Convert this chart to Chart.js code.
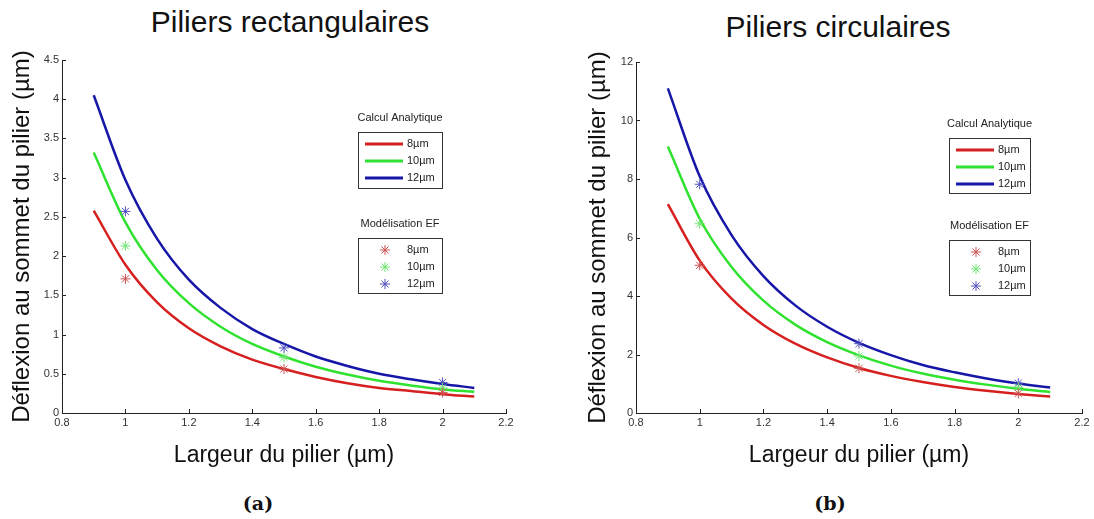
<!DOCTYPE html>
<html>
<head>
<meta charset="utf-8">
<script src="https://cdn.jsdelivr.net/npm/chart.js@4"></script>
<style>
  body { margin: 0; background: #fff; width: 1094px; height: 519px; position: relative; overflow: hidden;
         font-family: "Liberation Sans", Arial, sans-serif; }
  .title { position: absolute; font-size: 30px; color: #111; transform: translate(-50%, -50%); white-space: nowrap; }
  .cap { position: absolute; font: bold 19px "DejaVu Serif", serif; color: #111; transform: translate(-50%, -50%); }
  canvas { position: absolute; top: 0; }
</style>
</head>
<body>
<div class="title" style="left:290px;top:22px">Piliers rectangulaires</div>
<div class="title" style="left:838px;top:27px">Piliers circulaires</div>
<canvas id="rectChart" width="547" height="480" style="left:0"></canvas>
<canvas id="circChart" width="518" height="480" style="left:576px"></canvas>
<div class="cap" style="left:258px;top:503px">(a)</div>
<div class="cap" style="left:830px;top:503px">(b)</div>

<script>
// === DATA ===
const widths = [0.9, 1.0, 1.1, 1.2, 1.3, 1.4, 1.5, 1.6, 1.7, 1.8, 1.9, 2.0, 2.1];
const feWidths = [1.0, 1.5, 2.0];
const sizes = ["8µm", "10µm", "12µm"];

// rectangular pillars - analytic
const rectAna8 = [2.58, 1.89, 1.41, 1.08, 0.85, 0.68, 0.56, 0.46, 0.38, 0.32, 0.28, 0.24, 0.21];
const rectAna10 = [3.32, 2.43, 1.82, 1.40, 1.10, 0.88, 0.72, 0.59, 0.49, 0.41, 0.35, 0.30, 0.27];
const rectAna12 = [4.05, 2.97, 2.22, 1.70, 1.34, 1.07, 0.88, 0.72, 0.60, 0.50, 0.43, 0.37, 0.32];
// rectangular pillars - FE
const rectFe8 = [1.71, 0.56, 0.26];
const rectFe10 = [2.13, 0.71, 0.32];
const rectFe12 = [2.57, 0.83, 0.39];

// circular pillars - analytic
const circAna8 = [7.14, 5.21, 3.91, 3.01, 2.37, 1.90, 1.54, 1.27, 1.06, 0.89, 0.76, 0.65, 0.56];
const circAna10 = [9.11, 6.64, 4.99, 3.84, 3.02, 2.42, 1.97, 1.62, 1.35, 1.14, 0.97, 0.83, 0.72];
const circAna12 = [11.10, 8.09, 6.08, 4.68, 3.68, 2.95, 2.40, 1.98, 1.64, 1.39, 1.18, 1.01, 0.87];
// circular pillars - FE
const circFe8 = [5.05, 1.53, 0.67];
const circFe10 = [6.47, 1.95, 0.88];
const circFe12 = [7.82, 2.37, 1.02];

const lineColors = ["rgb(214,32,32)", "rgb(48,226,48)", "rgb(22,22,168)"];
const markColors = ["rgb(205,80,80)", "rgb(110,228,110)", "rgb(80,80,190)"];

const FONT = '"Liberation Sans", Arial, sans-serif';

// MATLAB style ticks pointing into the plot
const inwardTicks = {
  id: "inwardTicks",
  afterDatasetsDraw(chart) {
    const { ctx, chartArea, scales } = chart;
    ctx.save();
    ctx.strokeStyle = "#222";
    ctx.lineWidth = 1;
    ctx.beginPath();
    scales.x.ticks.forEach((t) => {
      const px = Math.round(scales.x.getPixelForValue(t.value)) + 0.5;
      ctx.moveTo(px, chartArea.bottom);
      ctx.lineTo(px, chartArea.bottom - 4);
    });
    scales.y.ticks.forEach((t) => {
      const py = Math.round(scales.y.getPixelForValue(t.value)) + 0.5;
      ctx.moveTo(chartArea.left, py);
      ctx.lineTo(chartArea.left + 4, py);
    });
    ctx.stroke();
    ctx.restore();
  },
};

// the two boxed legends (analytic lines, FE markers)
const figLegend = {
  id: "figLegend",
  afterDraw(chart, args, opts) {
    const { ctx, chartArea } = chart;
    const x0 = Math.round(chartArea.left + opts.dx);
    ctx.save();
    ctx.font = "11px " + FONT;
    ctx.textBaseline = "middle";
    opts.boxes.forEach((b) => {
      const y0 = Math.round(chartArea.top + b.dy);
      ctx.fillStyle = "#222";
      ctx.textAlign = "center";
      ctx.fillText(b.title, x0 + opts.w / 2, y0 - 14);
      ctx.strokeStyle = "#333";
      ctx.lineWidth = 1;
      ctx.strokeRect(x0 + 0.5, y0 + 0.5, opts.w, b.h);
      const sets = chart.data.datasets.filter((d) => d.group === b.group);
      sets.forEach((d, i) => {
        const yy = y0 + 12 + i * 17;
        if (b.group === "ana") {
          ctx.strokeStyle = d.borderColor;
          ctx.lineWidth = 3;
          ctx.beginPath();
          ctx.moveTo(x0 + 7, yy);
          ctx.lineTo(x0 + 45, yy);
          ctx.stroke();
        } else {
          ctx.strokeStyle = d.borderColor;
          ctx.lineWidth = 1;
          Chart.helpers.drawPoint(ctx, { pointStyle: "star", radius: 5, borderWidth: 1, rotation: 0 }, x0 + 27, yy);
        }
        ctx.fillStyle = "#222";
        ctx.textAlign = "left";
        ctx.fillText(d.label, x0 + 49, yy);
      });
    });
    ctx.restore();
  },
};

const fmt = (v) => String(+v.toFixed(2));

function buildDatasets(ana, fe) {
  const feSets = fe.map((vals, i) => ({
    group: "fe",
    label: sizes[i],
    data: feWidths.map((w, j) => ({ x: w, y: vals[j] })),
    showLine: false,
    pointStyle: "star",
    pointRadius: 5,
    pointBorderWidth: 1,
    borderColor: markColors[i],
    backgroundColor: markColors[i],
  }));
  const anaSets = ana.map((vals, i) => ({
    group: "ana",
    label: sizes[i],
    data: widths.map((w, j) => ({ x: w, y: vals[j] })),
    borderColor: lineColors[i],
    borderWidth: 2.5,
    pointRadius: 0,
    tension: 0.4,
    cubicInterpolationMode: "monotone",
  }));
  // first datasets are drawn on top
  return [...feSets, ...anaSets];
}

function makeChart(id, ana, fe, yMax, yStep, pad, yWidth, legend) {
  new Chart(document.getElementById(id), {
    type: "line",
    data: { datasets: buildDatasets(ana, fe) },
    options: {
      responsive: false,
      animation: false,
      events: [],
      layout: { padding: pad },
      plugins: {
        legend: { display: false },
        tooltip: { enabled: false },
        figLegend: legend,
      },
      scales: {
        x: {
          type: "linear",
          min: 0.8,
          max: 2.2,
          ticks: { stepSize: 0.2, callback: fmt, color: "#333", font: { family: FONT, size: 11 }, padding: 3, maxRotation: 0 },
          grid: { drawOnChartArea: false, drawTicks: false },
          border: { color: "#222" },
          title: { display: true, text: "Largeur du pilier (µm)", color: "#111", font: { family: FONT, size: 23 }, padding: { top: 4, bottom: 11 } },
          afterFit: (s) => { s.height = 67; },
        },
        y: {
          min: 0,
          max: yMax,
          ticks: { stepSize: yStep, callback: fmt, color: "#333", font: { family: FONT, size: 11 }, padding: 3 },
          grid: { drawOnChartArea: false, drawTicks: false },
          border: { color: "#222" },
          title: { display: true, text: "Déflexion au sommet du pilier (µm)", color: "#111", font: { family: FONT, size: 24 }, padding: { top: 8, bottom: 4 } },
          afterFit: (s) => { s.width = yWidth; },
        },
      },
    },
    plugins: [inwardTicks, figLegend],
  });
}

makeChart("rectChart", [rectAna8, rectAna10, rectAna12], [rectFe8, rectFe10, rectFe12], 4.5, 0.5,
  { top: 60, right: 41, bottom: 0, left: 0 }, 62,
  { dx: 296, w: 84, boxes: [
    { group: "ana", title: "Calcul Analytique", dy: 72, h: 56 },
    { group: "fe", title: "Modélisation EF", dy: 178, h: 55 },
  ] });

makeChart("circChart", [circAna8, circAna10, circAna12], [circFe8, circFe10, circFe12], 12, 2,
  { top: 62, right: 12, bottom: 0, left: 0 }, 60,
  { dx: 313, w: 81, boxes: [
    { group: "ana", title: "Calcul Analytique", dy: 76, h: 55 },
    { group: "fe", title: "Modélisation EF", dy: 178, h: 55 },
  ] });
</script>
</body>
</html>
